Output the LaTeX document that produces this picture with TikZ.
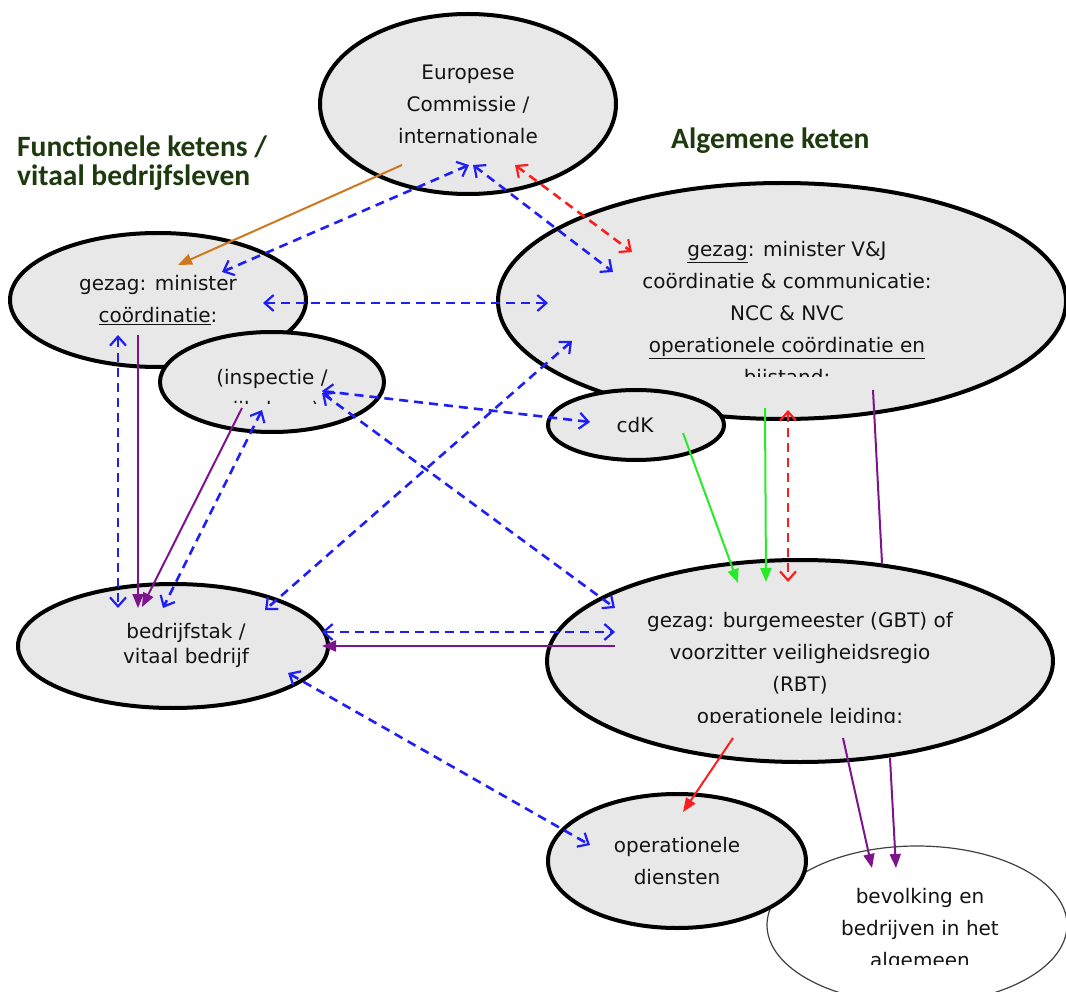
\documentclass[tikz,border=0pt]{standalone}
\usepackage{fontspec}
\setmainfont{DejaVu Sans}
\newfontfamily\headfont{Carlito}
\usetikzlibrary{shapes.geometric,arrows.meta}
\definecolor{bluec}{RGB}{30,30,245}
\definecolor{redc}{RGB}{250,30,30}
\definecolor{greenc}{RGB}{40,235,40}
\definecolor{purplec}{RGB}{125,20,140}
\definecolor{orangec}{RGB}{205,120,30}
\definecolor{fillg}{RGB}{232,232,232}
\definecolor{textc}{RGB}{20,20,20}
\definecolor{headc}{RGB}{28,58,14}
\begin{document}
\begin{tikzpicture}[x=1pt,y=-1pt,
  >={Straight Barb[length=9pt,width=16pt,line width=2.2pt]},
  ell/.style={ellipse, draw=black, line width=4pt, fill=fillg, inner sep=0pt},
  thinell/.style={ellipse, draw=black!75, line width=1.2pt, fill=white, inner sep=0pt},
  txt/.style={align=center, font=\fontsize{20}{32}\selectfont, text=textc, inner sep=0pt},
  head/.style={align=left, font=\headfont\bfseries\fontsize{29.5}{29}\selectfont, text=headc, inner sep=0pt},
  dblue/.style={draw=bluec, line width=2.6pt, dash pattern=on 9pt off 6pt, <->},
  dred/.style={draw=redc, line width=2.6pt, dash pattern=on 9pt off 6pt, <->},
  solidarr/.style={line width=2pt, arrows={-Triangle[length=14pt,width=11pt]}},
]
\useasboundingbox (0,0) rectangle (1066,992);

% headings
\node[head, anchor=north west] (hl) at (17,136) {Functionele ketens /\\vitaal bedrijfsleven};
\node[head, anchor=north west] (hr) at (671,128) {Algemene keten};

% ellipses
\node[ell, minimum width=296pt, minimum height=134pt] (gm) at (158,300) {};
\node[ell, minimum width=224pt, minimum height=100pt] (insp) at (272,382) {};
\node[ell, minimum width=568pt, minimum height=236pt] (mv) at (782,301) {};
\node[ell, minimum width=176pt, minimum height=70pt] (cd) at (636,425) {};
\node[ell, minimum width=296pt, minimum height=180pt] (ec) at (468,104) {};
\node[ell, minimum width=310pt, minimum height=124pt] (bd) at (173,646) {};
\node[ell, minimum width=506pt, minimum height=202pt] (bg) at (800,661) {};
\node[thinell, minimum width=300pt, minimum height=158pt] (bv) at (917,925) {};
\node[ell, minimum width=258pt, minimum height=134pt] (od) at (677,861) {};

% texts
\node[txt] (ecT) at (468,104) {Europese\\Commissie /\\internationale};
\node[txt] (gmT) at (158,300) {gezag: minister\\\underline{coördinatie}:};
\begin{scope}
  \clip (150,330) rectangle (400,403);
  \node[txt] (inT) at (272,395) {(inspectie /\\rijksheer)};
\end{scope}
\begin{scope}
  \clip (500,180) rectangle (1066,377);
  \node[txt] (mvT) at (787,315) {\underline{gezag}: minister V\&J\\coördinatie \& communicatie:\\NCC \& NVC\\\underline{operationele coördinatie en}\\bijstand:};
\end{scope}
\node[txt] (cdT) at (635,425) {cdK};
\node[txt, font=\fontsize{20}{25}\selectfont] (bdT) at (186,645) {bedrijfstak /\\vitaal bedrijf};
\begin{scope}
  \clip (550,560) rectangle (1060,722);
  \node[txt] (bgT) at (800,670) {gezag: burgemeester (GBT) of\\voorzitter veiligheidsregio\\(RBT)\\operationele leiding:};
\end{scope}
\node[txt] (odT) at (677,861) {operationele\\diensten};
\begin{scope}
  \clip (770,850) rectangle (1066,964);
  \node[txt] (bvT) at (920,930) {bevolking en\\bedrijven in het\\algemeen};
\end{scope}

% connector end points
\coordinate (ecA) at (469,165); \coordinate (gmA) at (222,272);
\coordinate (ecB) at (473,165); \coordinate (mvB) at (613,272);
\coordinate (ecC) at (515,165); \coordinate (mvC) at (632,252);
\coordinate (ecO) at (402,165); \coordinate (gmO) at (178,265);
\coordinate (gmD) at (263,303); \coordinate (mvD) at (548,303);
\coordinate (gmE) at (118,335); \coordinate (bdE) at (118,608);
\coordinate (gmF) at (138,335); \coordinate (bdF) at (138,608);
\coordinate (inG) at (242,408); \coordinate (bdG) at (142,607);
\coordinate (inH) at (262,410); \coordinate (bdH) at (163,608);
\coordinate (inI) at (322,391); \coordinate (cdI) at (590,422);
\coordinate (inJ) at (322,393); \coordinate (bgJ) at (615,608);
\coordinate (mvK) at (572,341); \coordinate (bdK) at (265,610);
\coordinate (bdL) at (322,632); \coordinate (bgL) at (615,632);
\coordinate (bgM) at (615,646); \coordinate (bdM) at (322,646);
\coordinate (bdN) at (288,673); \coordinate (odN) at (590,845);
\coordinate (cdO) at (683,433); \coordinate (bgO) at (738,583);
\coordinate (mvP) at (765,408); \coordinate (bgP) at (766,582);
\coordinate (mvQ) at (788,410); \coordinate (bgQ) at (788,582);
\coordinate (mvR) at (873,390); \coordinate (bgR) at (882,563);
\coordinate (bgS) at (733,738); \coordinate (odS) at (683,812);
\coordinate (bgT2) at (843,738); \coordinate (bvT2) at (872,868);
\coordinate (bgU) at (890,758); \coordinate (bvU) at (896,868);

% connectors
\draw[solidarr, draw=orangec, fill=orangec] (ecO) -- (gmO);
\draw[dblue] (ecA) -- (gmA);
\draw[dblue] (ecB) -- (mvB);
\draw[dred] (ecC) -- (mvC);
\draw[dblue] (gmD) -- (mvD);
\draw[dblue] (gmE) -- (bdE);
\draw[solidarr, draw=purplec, fill=purplec] (gmF) -- (bdF);
\draw[solidarr, draw=purplec, fill=purplec] (inG) -- (bdG);
\draw[dblue] (inH) -- (bdH);
\draw[dblue] (inI) -- (cdI);
\draw[dblue] (inJ) -- (bgJ);
\draw[dblue] (mvK) -- (bdK);
\draw[dblue] (bdL) -- (bgL);
\draw[solidarr, draw=purplec, fill=purplec] (bgM) -- (bdM);
\draw[dblue] (bdN) -- (odN);
\draw[solidarr, draw=greenc, fill=greenc] (cdO) -- (bgO);
\draw[solidarr, draw=greenc, fill=greenc] (mvP) -- (bgP);
\draw[dred] (mvQ) -- (bgQ);
\draw[line width=2pt, draw=purplec] (mvR) -- (bgR);
\draw[solidarr, draw=redc, fill=redc] (bgS) -- (odS);
\draw[solidarr, draw=purplec, fill=purplec] (bgT2) -- (bvT2);
\draw[solidarr, draw=purplec, fill=purplec] (bgU) -- (bvU);
\end{tikzpicture}
\end{document}
